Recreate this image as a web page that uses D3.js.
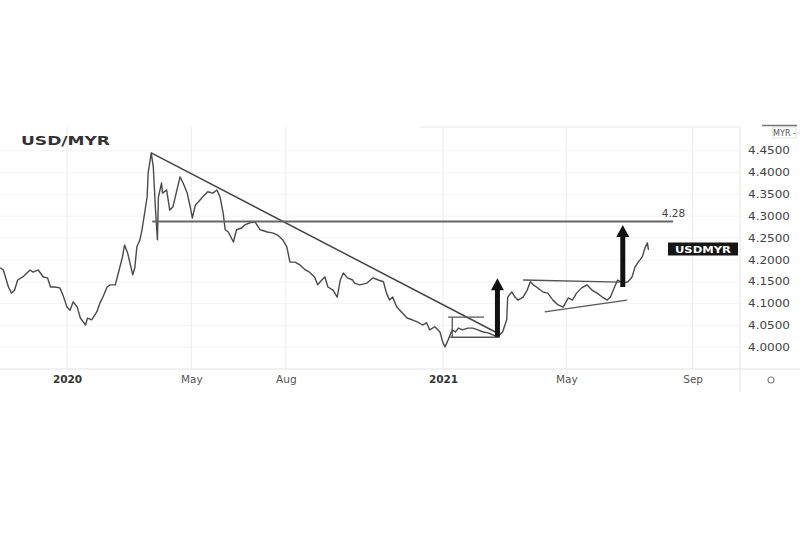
<!DOCTYPE html>
<html>
<head>
<meta charset="utf-8">
<script src="https://cdn.jsdelivr.net/npm/d3@7/dist/d3.min.js"></script>
<style>
  html, body { margin: 0; padding: 0; background: #fff; }
  svg { display: block; }
</style>
</head>
<body>
<svg id="chart" width="800" height="533"></svg>
<script>
// ---------- DATA ----------
const priceDates = [
"2019-10-28","2019-10-31","2019-11-05","2019-11-08","2019-11-11","2019-11-14","2019-11-19","2019-11-26","2019-11-29",
"2019-12-04","2019-12-09","2019-12-13","2019-12-16","2019-12-20","2019-12-25","2019-12-28",
"2020-01-01","2020-01-04","2020-01-07","2020-01-11","2020-01-14","2020-01-19","2020-01-21","2020-01-25","2020-01-30",
"2020-02-02","2020-02-05","2020-02-09","2020-02-12","2020-02-17","2020-02-20","2020-02-24","2020-02-26","2020-02-29",
"2020-03-05","2020-03-07","2020-03-09","2020-03-12","2020-03-14","2020-03-19","2020-03-20","2020-03-22","2020-03-23",
"2020-03-25","2020-03-26","2020-03-27","2020-03-29","2020-03-30","2020-04-02","2020-04-03","2020-04-07","2020-04-10",
"2020-04-13","2020-04-17","2020-04-20","2020-04-23","2020-04-27","2020-04-30","2020-05-02","2020-05-05","2020-05-08",
"2020-05-12","2020-05-17","2020-05-22","2020-05-26","2020-05-29","2020-06-01","2020-06-03","2020-06-06","2020-06-11",
"2020-06-14","2020-06-19","2020-06-22","2020-06-27","2020-07-02","2020-07-07","2020-07-14","2020-07-19","2020-07-24",
"2020-07-29","2020-08-02","2020-08-05","2020-08-10","2020-08-15","2020-08-20","2020-08-24","2020-08-29","2020-09-01",
"2020-09-05","2020-09-08","2020-09-11","2020-09-16","2020-09-20","2020-09-23","2020-09-26","2020-09-30","2020-10-05",
"2020-10-07","2020-10-12","2020-10-19","2020-10-25","2020-10-30","2020-11-04","2020-11-07","2020-11-10","2020-11-13",
"2020-11-17","2020-11-20","2020-11-27","2020-12-02","2020-12-07","2020-12-12","2020-12-16","2020-12-19","2020-12-24",
"2020-12-29","2021-01-01","2021-01-03","2021-01-06","2021-01-10","2021-01-13","2021-01-16","2021-01-20","2021-01-25",
"2021-01-30","2021-02-04","2021-02-09","2021-02-14","2021-02-19","2021-02-23","2021-02-28","2021-03-04","2021-03-05",
"2021-03-09","2021-03-12","2021-03-15","2021-03-20","2021-03-24","2021-03-27","2021-03-30","2021-04-02","2021-04-08",
"2021-04-13","2021-04-18","2021-04-23","2021-04-28","2021-05-03","2021-05-07","2021-05-11","2021-05-16","2021-05-21",
"2021-05-26","2021-05-31","2021-06-05","2021-06-10","2021-06-13","2021-06-17","2021-06-20","2021-06-25","2021-06-30",
"2021-07-04","2021-07-07","2021-07-10","2021-07-14","2021-07-17","2021-07-19","2021-07-20"
];
const priceValues = [
4.182,4.177,4.138,4.124,4.131,4.154,4.161,4.177,4.172,
4.177,4.161,4.159,4.138,4.138,4.136,4.120,
4.092,4.085,4.104,4.092,4.067,4.051,4.067,4.063,4.081,
4.101,4.115,4.138,4.143,4.143,4.170,4.207,4.234,4.216,
4.166,4.182,4.230,4.246,4.269,4.344,4.399,4.429,4.445,
4.413,4.367,4.321,4.246,4.344,4.376,4.353,4.360,4.314,
4.321,4.360,4.390,4.376,4.353,4.321,4.296,4.326,4.333,
4.344,4.356,4.353,4.360,4.344,4.307,4.269,4.264,4.241,
4.269,4.273,4.280,4.285,4.287,4.269,4.264,4.262,4.257,
4.246,4.230,4.195,4.195,4.188,4.177,4.172,4.161,4.143,
4.154,4.161,4.138,4.131,4.115,4.154,4.170,4.159,4.154,
4.147,4.143,4.147,4.159,4.154,4.150,4.124,4.108,4.115,
4.092,4.085,4.067,4.063,4.058,4.051,4.056,4.040,4.047,
4.035,4.010,4.001,4.017,4.040,4.035,4.044,4.040,4.044,
4.044,4.040,4.035,4.033,4.028,4.024,4.035,4.063,4.115,
4.127,4.115,4.108,4.115,4.131,4.150,4.143,4.138,4.127,
4.124,4.108,4.097,4.092,4.113,4.108,4.124,4.136,4.143,
4.131,4.124,4.115,4.108,4.115,4.138,4.154,4.147,4.150,
4.161,4.184,4.195,4.207,4.230,4.239,4.223
];

const yTicks = [4.00,4.05,4.10,4.15,4.20,4.25,4.30,4.35,4.40,4.45];
const xTickDates = ["2020-01-01","2020-05-01","2020-08-01","2021-01-01","2021-05-01","2021-09-01"];
const xTickLabels = ["2020","May","Aug","2021","May","Sep"];
const xTickBold = [true,false,false,true,false,false];

// annotations
const trendDates = ["2020-03-23","2021-02-21"];
const trendValues = [4.445,4.035];
const resistDates = ["2020-03-24","2021-08-13"];
const resistValue = 4.288;
const resistLabel = "4.28";
const flagTopDates = ["2021-01-06","2021-02-10"];
const flagTopValue = 4.069;
const flagBottomDates = ["2021-01-08","2021-02-25"];
const flagBottomValue = 4.023;
const flagSideDate = "2021-01-10";
const triUpperDates = ["2021-03-20","2021-06-22"];
const triUpperValues = [4.154,4.149];
const triLowerDates = ["2021-04-10","2021-06-29"];
const triLowerValues = [4.081,4.108];
const arrowDates = ["2021-02-23","2021-06-25"];
const arrowFrom = [4.024,4.138];
const arrowTo = [4.158,4.280];
const seriesName = "USDMYR";
const chartTitle = "USD/MYR";
const axisUnit = "MYR -";
const lastValue = 4.225;

// ---------- CHART ----------
const parse = d3.timeParse("%Y-%m-%d");
const svg = d3.select("#chart");
const plot = {left: 0, right: 740, top: 127, bottom: 369};

const x = d3.scaleTime()
  .domain([parse("2020-01-01"), parse("2021-01-01")])
  .range([67, 443]);
const y = d3.scaleLinear().domain([4.0, 4.45]).range([347.3, 150.7]);

svg.append("defs").append("clipPath").attr("id","clip")
  .append("rect").attr("x",plot.left).attr("y",plot.top)
  .attr("width",plot.right-plot.left).attr("height",plot.bottom-plot.top);

// gridlines
const grid = svg.append("g");
grid.selectAll(".hg").data(yTicks).join("line")
  .attr("x1",plot.left).attr("x2",plot.right)
  .attr("y1",d=>y(d)).attr("y2",d=>y(d))
  .attr("stroke","#f4f4f4").attr("stroke-width",1);
grid.selectAll(".vg").data(xTickDates).join("line")
  .attr("x1",d=>x(parse(d))).attr("x2",d=>x(parse(d)))
  .attr("y1",plot.top).attr("y2",plot.bottom)
  .attr("stroke","#ececec").attr("stroke-width",1);

// borders
svg.append("line").attr("x1",420).attr("x2",plot.right).attr("y1",plot.top).attr("y2",plot.top)
  .attr("stroke","#e8e8e8");
svg.append("line").attr("x1",plot.right).attr("x2",plot.right).attr("y1",plot.top).attr("y2",392)
  .attr("stroke","#e6e6e6");
svg.append("line").attr("x1",plot.left).attr("x2",800).attr("y1",plot.bottom).attr("y2",plot.bottom)
  .attr("stroke","#e3e3e3");

// price line
const data = priceDates.map((d,i)=>({date: parse(d), value: priceValues[i]}));
const line = d3.line().x(d=>x(d.date)).y(d=>y(d.value));
svg.append("path").datum(data)
  .attr("clip-path","url(#clip)")
  .attr("d",line)
  .attr("fill","none").attr("stroke","#4a4a4a").attr("stroke-width",1.4)
  .attr("stroke-linejoin","round");

// annotations
const ann = svg.append("g").attr("clip-path","url(#clip)");
function seg(d1,v1,d2,v2,color,w){
  ann.append("line")
    .attr("x1",x(parse(d1))).attr("y1",y(v1))
    .attr("x2",x(parse(d2))).attr("y2",y(v2))
    .attr("stroke",color).attr("stroke-width",w);
}
seg(trendDates[0],trendValues[0],trendDates[1],trendValues[1],"#444",1.5);
seg(resistDates[0],resistValue,resistDates[1],resistValue,"#666",2);
seg(flagTopDates[0],flagTopValue,flagTopDates[1],flagTopValue,"#555",1.3);
seg(flagBottomDates[0],flagBottomValue,flagBottomDates[1],flagBottomValue,"#555",1.3);
seg(flagSideDate,flagTopValue,flagSideDate,flagBottomValue,"#555",1.3);
seg(triUpperDates[0],triUpperValues[0],triUpperDates[1],triUpperValues[1],"#555",1.3);
seg(triLowerDates[0],triLowerValues[0],triLowerDates[1],triLowerValues[1],"#555",1.3);

// arrows
arrowDates.forEach((d,i)=>{
  const ax = x(parse(d));
  const y0 = y(arrowFrom[i]), y1 = y(arrowTo[i]);
  ann.append("line").attr("x1",ax).attr("x2",ax).attr("y1",y0).attr("y2",y1+10)
    .attr("stroke","#111").attr("stroke-width",5);
  ann.append("path")
    .attr("d",`M${ax-6.5},${y1+12}L${ax},${y1}L${ax+6.5},${y1+12}Z`)
    .attr("fill","#111");
});

// resistance label
svg.append("text").attr("x",x(parse(resistDates[1]))+12).attr("y",y(resistValue)-4)
  .attr("text-anchor","end")
  .attr("font-family","DejaVu Sans, sans-serif").attr("font-size",10.5)
  .attr("fill","#444").text(resistLabel);

// series label box
const boxY = y(lastValue);
svg.append("rect").attr("x",668).attr("y",boxY-6.5).attr("width",70).attr("height",13)
  .attr("fill","#161616");
svg.append("text").attr("x",703).attr("y",boxY+3.5).attr("text-anchor","middle")
  .attr("font-family","DejaVu Sans, sans-serif").attr("font-weight","bold").attr("font-size",9.5)
  .attr("fill","#fff").attr("textLength",56).attr("lengthAdjust","spacingAndGlyphs")
  .text(seriesName);

// title
svg.append("text").attr("x",21).attr("y",145)
  .attr("font-family","DejaVu Sans, sans-serif").attr("font-weight","bold").attr("font-size",13)
  .attr("fill","#333").attr("textLength",89).attr("lengthAdjust","spacingAndGlyphs")
  .text(chartTitle);

// y axis labels
const yAxis = d3.axisRight(y).tickValues(yTicks).tickFormat(d3.format(".4f")).tickSize(0).tickPadding(0);
const yg = svg.append("g").attr("transform","translate(748,0)").call(yAxis);
yg.select(".domain").remove();
yg.selectAll("text")
  .attr("font-family","DejaVu Sans, sans-serif").attr("font-size",10)
  .attr("fill","#444").attr("textLength",42).attr("lengthAdjust","spacingAndGlyphs");

// x axis labels
const xAxis = d3.axisBottom(x).tickValues(xTickDates.map(parse))
  .tickFormat((d,i)=>xTickLabels[i]).tickSize(0).tickPadding(0);
const xg = svg.append("g").attr("transform","translate(0,376)").call(xAxis);
xg.select(".domain").remove();
xg.selectAll("text")
  .attr("font-family","DejaVu Sans, sans-serif").attr("font-size",10.5)
  .attr("font-weight",(d,i)=>xTickBold[i]?"bold":"normal")
  .attr("fill",(d,i)=>xTickBold[i]?"#333":"#555");

// unit box top-right
svg.append("rect").attr("x",773).attr("y",127).attr("width",23).attr("height",11)
  .attr("fill","#fff").attr("stroke","#ddd").attr("stroke-width",0.8);
svg.append("text").attr("x",784.5).attr("y",135.5).attr("text-anchor","middle")
  .attr("font-family","DejaVu Sans, sans-serif").attr("font-size",8)
  .attr("fill","#555").text(axisUnit);
svg.append("line").attr("x1",762).attr("x2",797).attr("y1",125.5).attr("y2",125.5)
  .attr("stroke","#777").attr("stroke-width",1.5);

// settings icon
svg.append("circle").attr("cx",771).attr("cy",380).attr("r",3)
  .attr("fill","none").attr("stroke","#888").attr("stroke-width",1.2);
</script>
</body>
</html>
